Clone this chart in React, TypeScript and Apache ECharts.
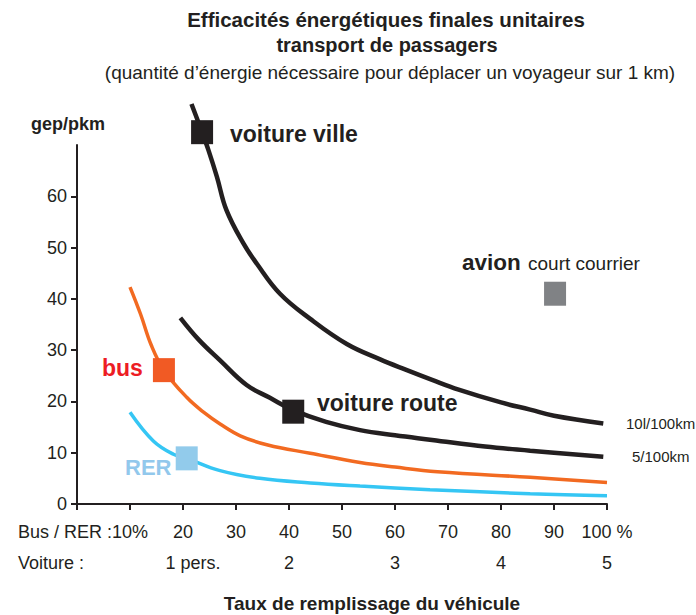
import React, { useEffect, useRef } from "react";
import * as echarts from "echarts";

// ---- data (x: taux de remplissage %, y: gep/pkm) ----
const villeLine: [number, number][] = [
  [21.6, 78], [23.6, 72.5], [24.8, 69], [26.4, 63.8], [28.2, 57.3], [31.4, 50.8],
  [33.9, 46.9], [38.3, 41], [44, 36.1], [50.9, 31.2], [57.2, 28.2], [62, 26.2],
  [67, 24.2], [72, 22.3], [80, 19.8], [85.5, 18.4], [90, 17.2], [99.3, 15.7],
];
const routeLine: [number, number][] = [
  [19.5, 36.3], [23, 32], [27, 28], [32, 23.2], [36.4, 20.7], [40.8, 18.3],
  [47, 16], [53.4, 14.4], [60, 13.4], [67, 12.5], [77, 11.2], [85.5, 10.4], [99.3, 9.2],
];
const busLine: [number, number][] = [
  [10, 42.3], [12, 37], [14, 31], [16.4, 26.1], [20.7, 20.8], [24, 17.8], [27, 15.6],
  [30.8, 13.3], [36, 11.5], [44, 9.9], [53.4, 8.1], [60, 7.2], [68, 6.3], [85.5, 5.2], [100, 4.2],
];
const rerLine: [number, number][] = [
  [10, 17.9], [14.4, 12.3], [18.2, 9.7], [20.7, 8.9], [27, 6.5], [34.5, 5.0],
  [44, 4.1], [53.4, 3.5], [66.6, 2.8], [85.5, 2.0], [100, 1.6],
];
const villeMarker: [number, number] = [23.6, 72.5];
const routeMarker: [number, number] = [40.8, 18.0];
const busMarker: [number, number] = [16.4, 26.1];
const rerMarker: [number, number] = [20.7, 8.9];
const avionMarker: [number, number] = [90.2, 41.0];

const busRerTickLabels = ["", "10%", "20", "30", "40", "50", "60", "70", "80", "90", "100 %"];
const voitureTickValues = [20, 40, 60, 80, 100];
const voitureTickLabels = ["1 pers.", "2", "3", "4", "5"];
const yTickValues = [0, 10, 20, 30, 40, 50, 60];

const INK = "#231f20";
const FF = '"Liberation Sans", Arial, Helvetica, sans-serif';

function txt(text: string, x: number, y: number, font: string, fill = INK, align = "left") {
  return {
    type: "text",
    x,
    y,
    z: 20,
    style: { text, font, fill, textAlign: align, textVerticalAlign: "middle" },
  };
}

export default function App() {
  const ref = useRef<HTMLDivElement>(null);
  useEffect(() => {
    if (!ref.current) return;
    const chart = echarts.init(ref.current, undefined, { renderer: "svg" });
    const lineSeries = (data: [number, number][], color: string, width: number) => ({
      type: "line",
      data,
      smooth: 0.4,
      symbol: "none",
      clip: false,
      lineStyle: { color, width, cap: "butt" },
      z: 2,
    });
    const marker = (pt: [number, number], color: string) => ({
      type: "scatter",
      data: [pt],
      symbol: "rect",
      symbolSize: [22, 24],
      itemStyle: { color, opacity: 1 },
      clip: false,
      z: 5,
    });
    chart.setOption({
      animation: false,
      backgroundColor: "#ffffff",
      textStyle: { fontFamily: FF },
      grid: { left: 77, right: 89, top: 145, bottom: 111, containLabel: false },
      xAxis: [
        {
          type: "value",
          min: 0,
          max: 100,
          interval: 10,
          position: "bottom",
          axisLine: { show: true, lineStyle: { color: INK, width: 2 } },
          axisTick: { show: true, inside: false, length: 6, lineStyle: { color: INK, width: 2 } },
          splitLine: { show: false },
          axisLabel: {
            margin: 19,
            fontSize: 18,
            color: INK,
            fontFamily: FF,
            formatter: (v: number) => busRerTickLabels[Math.round(v / 10)] ?? "",
          },
        },
        {
          type: "value",
          min: 0,
          max: 100,
          interval: 10,
          position: "bottom",
          axisLine: { show: false },
          axisTick: { show: false },
          splitLine: { show: false },
          axisLabel: {
            margin: 50,
            fontSize: 18,
            color: INK,
            fontFamily: FF,
            formatter: (v: number) => {
              const i = voitureTickValues.indexOf(Math.round(v));
              if (i < 0) return "";
              return i === 0 ? "{p|" + voitureTickLabels[i] + "}" : voitureTickLabels[i];
            },
            rich: { p: { fontSize: 18, color: INK, fontFamily: FF, padding: [0, 0, 0, 20] } },
          },
        },
      ],
      yAxis: {
        type: "value",
        min: 0,
        max: 70,
        interval: 10,
        axisLine: { show: true, lineStyle: { color: INK, width: 2 } },
        axisTick: {
          show: true,
          inside: false,
          length: 6,
          customValues: yTickValues,
          lineStyle: { color: INK, width: 2 },
        },
        splitLine: { show: false },
        axisLabel: {
          margin: 10,
          fontSize: 18,
          color: INK,
          fontFamily: FF,
          customValues: yTickValues,
          formatter: (v: number) => (v >= 70 ? "" : String(v)),
        },
      },
      series: [
        lineSeries(villeLine, INK, 4.5),
        lineSeries(routeLine, INK, 4.5),
        lineSeries(busLine, "#f26a21", 3.5),
        lineSeries(rerLine, "#35c6f4", 3.5),
        marker(villeMarker, INK),
        marker(routeMarker, INK),
        marker(busMarker, "#f15a24"),
        marker(rerMarker, "#92cbeb"),
        marker(avionMarker, "#808285"),
      ],
      graphic: [
        txt("Efficacités énergétiques finales unitaires", 386, 19, `bold 20.5px ${FF}`, INK, "center"),
        txt("transport de passagers", 387, 45, `bold 20px ${FF}`, INK, "center"),
        txt("(quantité d’énergie nécessaire pour déplacer un voyageur sur 1 km)", 390, 72, `19px ${FF}`, INK, "center"),
        txt("gep/pkm", 31, 124, `bold 18px ${FF}`),
        txt("voiture ville", 230, 134, `bold 23px ${FF}`),
        txt("voiture route", 317, 403, `bold 23px ${FF}`),
        txt("bus", 102, 368, `bold 23px ${FF}`, "#ed1c24"),
        txt("RER", 125, 467, `bold 22px ${FF}`, "#92c8ec"),
        txt("avion", 462, 262, `bold 22.5px ${FF}`),
        txt("court courrier", 528, 263, `19px ${FF}`),
        txt("10l/100km", 626, 423, `15px ${FF}`),
        txt("5/100km", 632, 456, `15px ${FF}`),
        txt("Bus / RER :", 112, 532, `18px ${FF}`, INK, "right"),
        txt("Voiture :", 18, 563, `18px ${FF}`),
        txt("Taux de remplissage du véhicule", 372, 603, `bold 19px ${FF}`, INK, "center"),
      ],
    });
    return () => chart.dispose();
  }, []);
  return (
    <div
      ref={ref}
      style={{ position: "fixed", left: 0, top: 0, width: 696, height: 615, background: "#fff" }}
    />
  );
}
